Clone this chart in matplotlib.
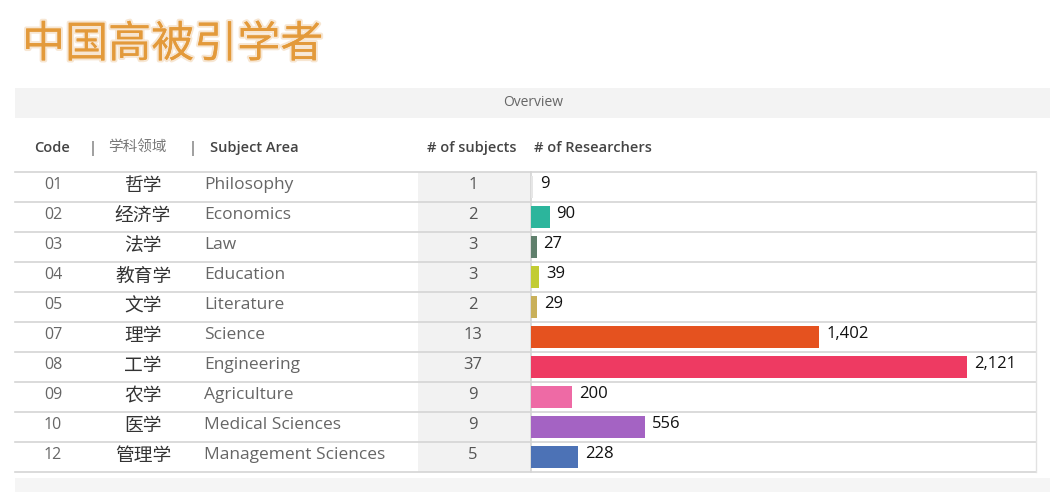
import matplotlib
matplotlib.use("Agg")
import matplotlib.pyplot as plt
import matplotlib.patheffects as pe

codes = ["01", "02", "03", "04", "05", "07", "08", "09", "10", "12"]
cn_names = ["哲学", "经济学", "法学", "教育学", "文学", "理学", "工学", "农学", "医学", "管理学"]
en_names = ["Philosophy", "Economics", "Law", "Education", "Literature", "Science",
            "Engineering", "Agriculture", "Medical Sciences", "Management Sciences"]
n_subjects = [1, 2, 3, 3, 2, 13, 37, 9, 9, 5]
n_researchers = [9, 90, 27, 39, 29, 1402, 2121, 200, 556, 228]
bar_colors = ["#e6e6e6", "#2cb59c", "#5f7f6c", "#c2cc33", "#c9b05a", "#e5521f",
              "#ee3a62", "#ee6aa5", "#a463c3", "#4c72b6"]

W, H = 1053, 492
fig = plt.figure(figsize=(W / 100, H / 100), dpi=100)
fig.patch.set_facecolor("white")

CJK = ["Noto Sans CJK SC", "DejaVu Sans"]
LAT = ["Open Sans", "DejaVu Sans"]

bg = fig.add_axes([0, 0, 1, 1])
bg.set_xlim(0, W)
bg.set_ylim(H, 0)
bg.axis("off")

# title
bg.text(22, 45, "中国高被引学者", fontsize=31, color="#e39a3b", family=CJK,
        va="center", ha="left",
        path_effects=[pe.withStroke(linewidth=3, foreground="#f7e6d2"), pe.Normal()])

# overview band
bg.add_patch(plt.Rectangle((15, 88), 1035, 30, color="#f3f3f3", lw=0))
bg.text(533, 103, "Overview", fontsize=10, color="#666666", family=LAT, ha="center", va="center")

# header
hy = 148
bg.text(34, hy, "Code", fontsize=10.5, color="#444444", family=LAT, weight="semibold", va="center")
bg.text(92, hy, "|", fontsize=10.5, color="#444444", family=LAT, va="center", ha="center")
bg.text(108, hy, "学科领域", fontsize=10.5, color="#777777", family=CJK, va="center")
bg.text(193, hy, "|", fontsize=10.5, color="#444444", family=LAT, va="center", ha="center")
bg.text(210, hy, "Subject Area", fontsize=10.5, color="#444444", family=LAT, weight="semibold", va="center")
bg.text(427, hy, "# of subjects", fontsize=10.5, color="#444444", family=LAT, weight="semibold", va="center")
bg.text(534, hy, "# of Researchers", fontsize=10.5, color="#444444", family=LAT, weight="semibold", va="center")

top, rh = 172, 30
nrows = len(codes)
# shaded subjects column
bg.add_patch(plt.Rectangle((418, top), 113, rh * nrows, color="#f2f2f2", lw=0))
for i in range(nrows + 1):
    y = top + rh * i
    bg.plot([15, 1036], [y, y], color="#d4d4d4", lw=1.2)
bg.plot([531, 531], [top, top + rh * nrows], color="#d4d4d4", lw=1.2)
bg.plot([1036, 1036], [top, top + rh * nrows], color="#e2e2e2", lw=1.0)
# bottom band
bg.add_patch(plt.Rectangle((15, 478), 1035, 14, color="#f5f5f5", lw=0))

for i in range(nrows):
    y = top + rh * i + rh / 2 - 2
    bg.text(53, y, codes[i], fontsize=11.5, color="#666666", family=LAT, ha="center", va="center")
    bg.text(143, y + 1, cn_names[i], fontsize=13.5, color="#333333", family=CJK, ha="center", va="center")
    bg.text(204, y, en_names[i], fontsize=12.5, color="#666666", family=LAT, ha="left", va="center")
    bg.text(473, y, str(n_subjects[i]), fontsize=12, color="#555555", family=LAT, ha="center", va="center")

# bar axes
x0, x1 = 531, 1036
scale = 436 / 2121.0
ax = fig.add_axes([x0 / W, (H - (top + rh * nrows)) / H, (x1 - x0) / W, rh * nrows / H])
ax.patch.set_alpha(0)
ax.set_xlim(0, (x1 - x0) / scale)
ax.set_ylim(nrows - 0.5, -0.5)
ax.axis("off")
ypos = list(range(nrows))
ax.barh(ypos, n_researchers, height=0.72, color=bar_colors, left=0)
for i, v in enumerate(n_researchers):
    ax.annotate(f"{v:,}", (v, i), xytext=(5, 2), textcoords="offset points",
                fontsize=12, color="#111111", family=LAT, va="center", ha="left")

fig.savefig("out.png", dpi=100, facecolor="white")
